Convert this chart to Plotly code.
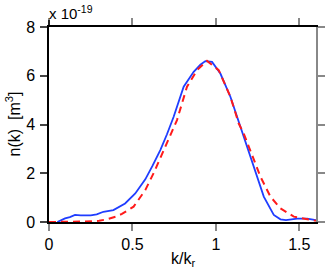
import plotly.graph_objects as go

# Blue (measured) curve
k_blue = [0.05, 0.07, 0.096, 0.125, 0.156, 0.19, 0.216, 0.25, 0.286, 0.326, 0.386, 0.456, 0.517,
          0.577, 0.62, 0.667, 0.707, 0.747, 0.807, 0.867, 0.907, 0.937, 0.977, 1.027, 1.087,
          1.107, 1.147, 1.167, 1.227, 1.287, 1.347, 1.387, 1.42, 1.487, 1.547, 1.6]
n_blue = [0.0, 0.06, 0.15, 0.2, 0.29, 0.27, 0.26, 0.27, 0.31, 0.42, 0.49, 0.76, 1.17,
          1.75, 2.3, 2.95, 3.6, 4.32, 5.55, 6.16, 6.45, 6.6, 6.57, 6.09, 5.14,
          4.73, 3.9, 3.5, 2.27, 1.04, 0.29, 0.11, 0.08, 0.14, 0.14, 0.08]

# Red (dashed) curve
k_red = [0.0, 0.1, 0.22, 0.3, 0.346, 0.4, 0.437, 0.507, 0.577, 0.63, 0.687, 0.767, 0.827, 0.887,
         0.947, 1.017, 1.087, 1.137, 1.167, 1.22, 1.267, 1.327, 1.387, 1.467, 1.547, 1.6]
n_red = [0.0, 0.0, 0.02, 0.05, 0.11, 0.22, 0.33, 0.63, 1.31, 2.05, 2.95, 4.18, 5.55, 6.23,
         6.61, 6.23, 5.14, 4.04, 3.63, 2.7, 1.86, 1.04, 0.56, 0.22, 0.12, 0.05]

x_ticks = [0, 0.5, 1, 1.5]
x_tick_labels = ["0", "0.5", "1", "1.5"]
y_ticks = [0, 2, 4, 6, 8]
y_tick_labels = ["0", "2", "4", "6", "8"]

FAM = "Liberation Sans, Arial, Helvetica, sans-serif"
font = dict(family=FAM, size=16, color="black")

fig = go.Figure()
fig.add_trace(go.Scatter(x=k_blue, y=n_blue, mode="lines",
                         line=dict(color="#1f3dff", width=1.8), showlegend=False))
fig.add_trace(go.Scatter(x=k_red, y=n_red, mode="lines",
                         line=dict(color="#ff1a1a", width=2, dash="7px,5px"), showlegend=False))
# invisible trace so the mirrored top/right axes are drawn
fig.add_trace(go.Scatter(x=[0], y=[0], xaxis="x2", yaxis="y2", mode="markers",
                         marker=dict(opacity=0), showlegend=False, hoverinfo="skip"))

common = dict(showgrid=False, zeroline=False, showline=True, linewidth=1.5,
              ticks="outside", ticklen=7, tickwidth=1.5, automargin=False)

fig.update_layout(
    width=325, height=273,
    margin=dict(l=49, r=9, t=27, b=51),
    paper_bgcolor="white", plot_bgcolor="white",
    font=font,
    xaxis=dict(range=[0, 1.6], tickvals=x_ticks, ticktext=x_tick_labels,
               linecolor="black", tickcolor="#888888", tickfont=font, **common),
    yaxis=dict(range=[0, 8], tickvals=y_ticks, ticktext=y_tick_labels,
               linecolor="black", tickcolor="#444444", tickfont=font,
               ticklabelstandoff=2, **common),
    xaxis2=dict(range=[0, 1.6], tickvals=x_ticks, overlaying="x", side="top",
                showticklabels=False, linecolor="black", tickcolor="#888888", **common),
    yaxis2=dict(range=[0, 8], tickvals=y_ticks, overlaying="y", side="right",
                showticklabels=False, linecolor="#888888", tickcolor="#888888", **common),
)
# left axis line extends slightly above the frame, as in the reference
fig.add_shape(type="line", xref="paper", yref="paper", x0=0, x1=0,
              ysizemode="pixel", yanchor=1, y0=0, y1=7,
              line=dict(color="black", width=1.5))
fig.add_annotation(text="x 10<sup>-19</sup>", xref="paper", yref="paper", x=0, y=1.0,
                   xanchor="left", yanchor="bottom", showarrow=False,
                   font=dict(family=FAM, size=15, color="black"), yshift=3, xshift=-2)
fig.add_annotation(text="k/k<sub>r</sub>", xref="paper", yref="paper", x=0.5, y=0,
                   xanchor="center", yanchor="top", showarrow=False, font=font, yshift=-26)
fig.add_annotation(text="n(k)  [m<sup>3</sup>]", xref="paper", yref="paper", x=0, y=0.5,
                   xanchor="center", yanchor="middle", showarrow=False, font=font,
                   textangle=-90, xshift=-36)

fig.write_html("out.html", config={"displayModeBar": False},
               post_script="document.body.style.margin='0px';document.body.style.padding='0px';")
